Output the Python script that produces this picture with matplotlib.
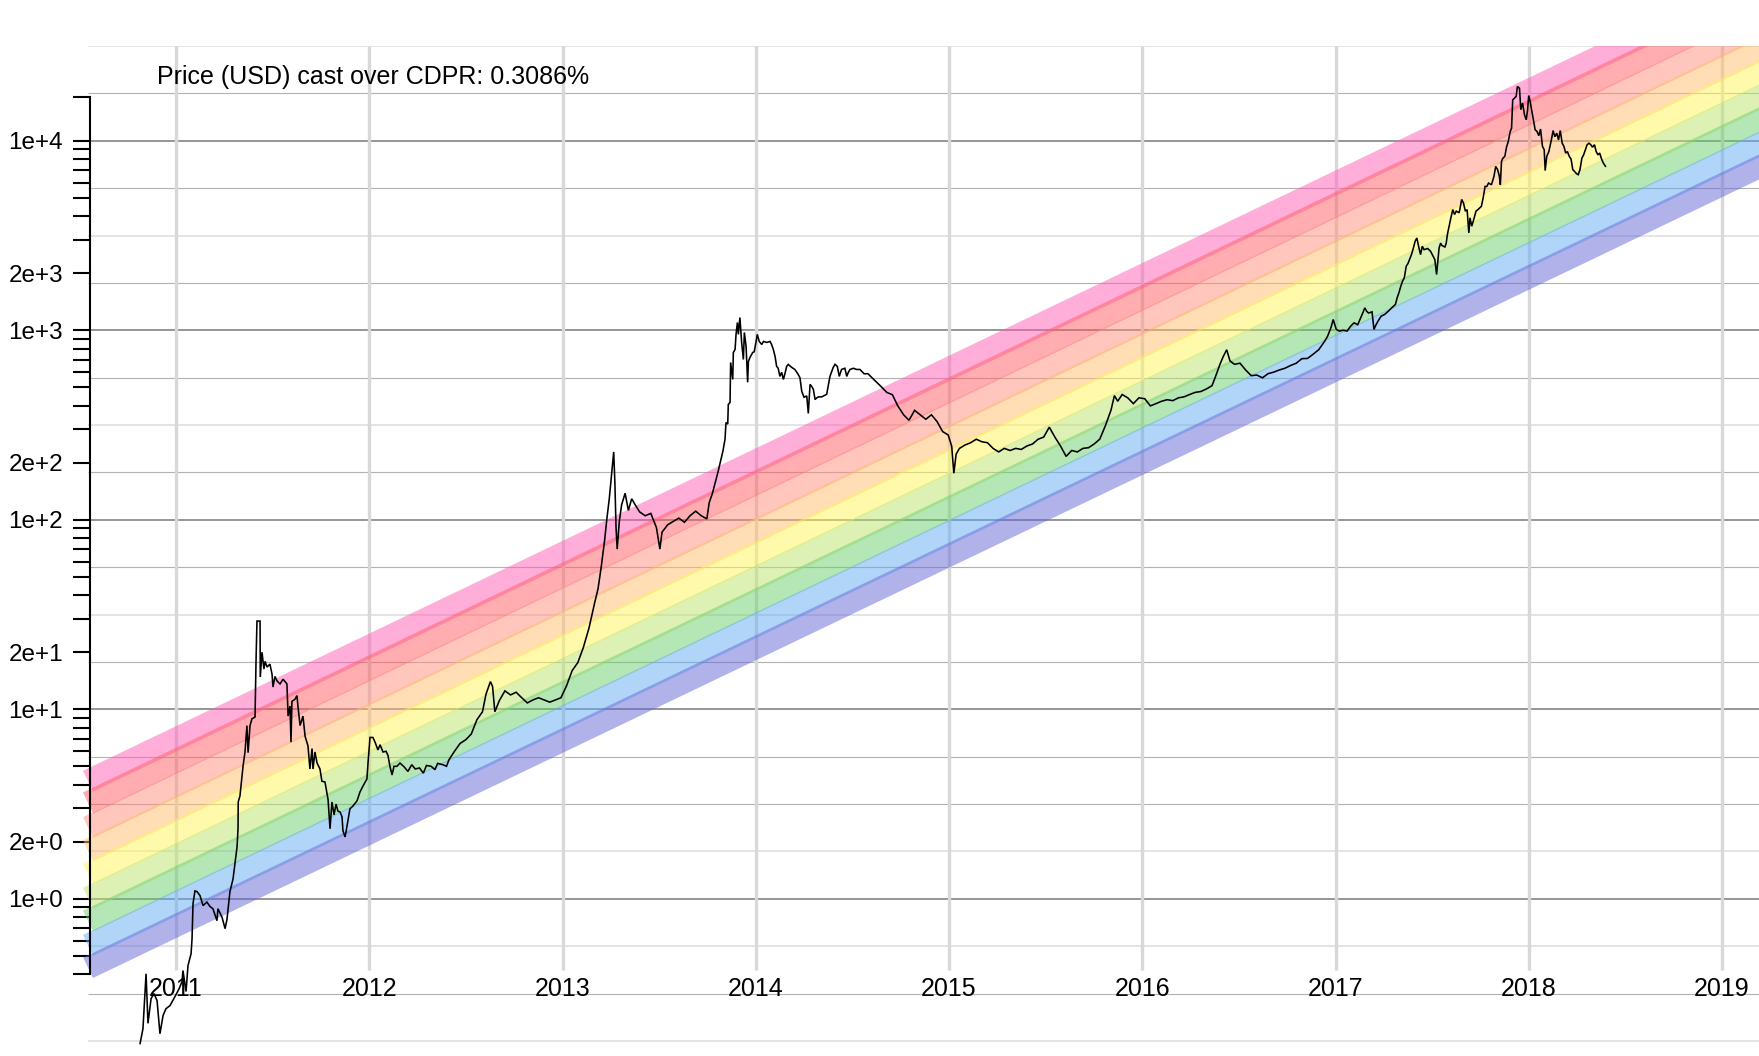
import numpy as np
import matplotlib
matplotlib.use("Agg")
import matplotlib.pyplot as plt
from matplotlib.patches import Polygon
from matplotlib.ticker import FixedLocator, NullFormatter

plt.rcParams['font.family'] = ['Liberation Sans', 'DejaVu Sans']

# ---------------- data ----------------
title = "Price (USD) cast over CDPR: 0.3086%"
cdpr = 0.003086                      # compound daily price rate
years = list(range(2011, 2020))
year_labels = [str(y) for y in years]
ytick_major = [1, 2, 10, 20, 100, 200, 1000, 2000, 10000]
ytick_labels = ['1e+0', '2e+0', '1e+1', '2e+1', '1e+2', '2e+2', '1e+3', '2e+3', '1e+4']

band_colors = ['#ff5cb5', '#ff5c64', '#ff8e7e', '#ffbe6c', '#fff45a',
               '#bee46c', '#6cce6c', '#62acf2', '#6666d8']
rainbow_t0 = 2010.545        # start of the bands (decimal year)
rainbow_top_log0 = 0.693     # log10 of upper edge of top band at 2010.555
band_width_dec = 0.1243      # thickness of one band in decades
overlap_px = [0, 4, 1.5, 2.5, 2.5, 1.5, 3, 1.5, 3, 0]

price_2010 = [(2010.814, 0.172), (2010.829, 0.206), (2010.845, 0.402), (2010.850, 0.297),
              (2010.855, 0.220), (2010.871, 0.297), (2010.886, 0.316), (2010.902, 0.290),
              (2010.917, 0.194), (2010.933, 0.242), (2010.948, 0.263), (2010.969, 0.273),
              (2010.995, 0.305)]
price_2011 = [(2011.016, 0.335), (2011.031, 0.365), (2011.036, 0.418), (2011.052, 0.324),
              (2011.062, 0.444), (2011.078, 0.513), (2011.083, 0.615), (2011.088, 0.941),
              (2011.098, 1.10), (2011.109, 1.09), (2011.124, 1.04), (2011.140, 0.92),
              (2011.160, 0.96), (2011.176, 0.91), (2011.191, 0.886), (2011.212, 0.766),
              (2011.217, 0.886), (2011.238, 0.80), (2011.254, 0.695), (2011.264, 0.78),
              (2011.279, 1.09), (2011.295, 1.27), (2011.316, 1.88), (2011.321, 2.34),
              (2011.322, 3.24), (2011.331, 3.49), (2011.347, 5.02), (2011.357, 5.95),
              (2011.367, 8.2), (2011.373, 5.9), (2011.383, 8.2), (2011.393, 8.9),
              (2011.409, 9.1), (2011.414, 17.7), (2011.419, 29.2), (2011.435, 29.2),
              (2011.436, 14.8), (2011.445, 20.0), (2011.455, 16.3), (2011.461, 17.9),
              (2011.471, 16.7), (2011.486, 17.3), (2011.497, 15.3), (2011.502, 13.1),
              (2011.512, 14.9), (2011.523, 14.1), (2011.538, 13.6), (2011.554, 14.4),
              (2011.574, 13.6), (2011.580, 9.2), (2011.590, 10.4), (2011.595, 6.7),
              (2011.600, 11.0), (2011.616, 11.3), (2011.626, 11.8), (2011.631, 10.4),
              (2011.642, 8.2), (2011.657, 9.2), (2011.668, 7.2), (2011.683, 6.4),
              (2011.693, 4.84), (2011.704, 6.2), (2011.709, 4.84), (2011.719, 5.95),
              (2011.730, 5.2), (2011.745, 4.84), (2011.755, 4.17), (2011.771, 4.13),
              (2011.787, 3.33), (2011.797, 2.34), (2011.807, 3.24), (2011.818, 2.77),
              (2011.828, 3.16), (2011.838, 2.9), (2011.849, 2.87), (2011.859, 2.71),
              (2011.864, 2.28), (2011.875, 2.12), (2011.885, 2.42), (2011.900, 2.98),
              (2011.916, 3.09), (2011.937, 3.29), (2011.952, 3.66), (2011.968, 3.94),
              (2011.988, 4.29), (2011.994, 5.27)]
price_2012 = [(2012.004, 7.1), (2012.019, 7.1), (2012.030, 6.7), (2012.045, 6.1),
              (2012.056, 6.5), (2012.071, 5.95), (2012.087, 6.0), (2012.097, 5.7),
              (2012.107, 5.0), (2012.118, 4.5), (2012.128, 5.0), (2012.143, 5.0),
              (2012.159, 5.2), (2012.180, 4.97), (2012.200, 4.7), (2012.220, 5.1),
              (2012.238, 4.84), (2012.260, 4.9), (2012.280, 4.6), (2012.296, 5.05),
              (2012.320, 5.0), (2012.340, 4.8), (2012.354, 5.18), (2012.380, 5.1),
              (2012.400, 5.0), (2012.412, 5.4), (2012.441, 6.0), (2012.470, 6.6),
              (2012.499, 6.9), (2012.528, 7.4), (2012.557, 8.8), (2012.586, 9.7),
              (2012.604, 12.0), (2012.627, 14.0), (2012.638, 13.2), (2012.650, 9.7),
              (2012.673, 11.1), (2012.702, 12.5), (2012.731, 11.9), (2012.760, 12.3),
              (2012.789, 11.5), (2012.818, 10.8), (2012.847, 11.2), (2012.876, 11.5),
              (2012.934, 10.9), (2012.992, 11.5)]
price_2013 = [(2013.021, 13.3), (2013.050, 16.0), (2013.079, 17.6), (2013.108, 21.2),
              (2013.137, 26.8), (2013.166, 36.3), (2013.184, 43.3), (2013.201, 57),
              (2013.218, 78), (2013.230, 102), (2013.242, 129), (2013.253, 169),
              (2013.265, 228), (2013.271, 158), (2013.277, 91), (2013.283, 70),
              (2013.294, 98), (2013.306, 120), (2013.324, 138), (2013.341, 112),
              (2013.358, 129), (2013.376, 120), (2013.399, 110), (2013.428, 105),
              (2013.457, 108), (2013.486, 91), (2013.504, 70), (2013.515, 86),
              (2013.544, 94), (2013.573, 98), (2013.602, 102), (2013.631, 97),
              (2013.660, 105), (2013.689, 111), (2013.718, 105), (2013.747, 101),
              (2013.759, 123), (2013.776, 138), (2013.806, 181), (2013.830, 230),
              (2013.841, 266), (2013.846, 326), (2013.855, 320), (2013.858, 406),
              (2013.867, 416), (2013.870, 676), (2013.881, 550), (2013.884, 763),
              (2013.893, 792), (2013.898, 951), (2013.905, 1099), (2013.910, 951),
              (2013.918, 1167), (2013.927, 862), (2013.936, 701), (2013.941, 973),
              (2013.950, 821), (2013.958, 531), (2013.962, 685), (2013.970, 718),
              (2013.984, 763), (2013.992, 770)]
price_2014 = [(2014.001, 862), (2014.008, 951), (2014.018, 873), (2014.031, 841),
              (2014.040, 873), (2014.057, 862), (2014.074, 873), (2014.082, 841),
              (2014.091, 792), (2014.100, 727), (2014.108, 645), (2014.116, 630),
              (2014.125, 571), (2014.134, 600), (2014.143, 550), (2014.151, 590),
              (2014.160, 645), (2014.168, 660), (2014.186, 637), (2014.203, 620),
              (2014.220, 584), (2014.229, 560), (2014.238, 476), (2014.250, 443),
              (2014.264, 450), (2014.272, 364), (2014.281, 518), (2014.290, 505),
              (2014.298, 488), (2014.307, 431), (2014.316, 440), (2014.324, 445),
              (2014.341, 445), (2014.367, 459), (2014.384, 571), (2014.401, 637),
              (2014.410, 661), (2014.422, 645), (2014.432, 571), (2014.444, 621),
              (2014.461, 630), (2014.471, 571), (2014.479, 600), (2014.488, 621),
              (2014.505, 630), (2014.522, 621), (2014.539, 621), (2014.561, 589),
              (2014.580, 590), (2014.620, 539), (2014.649, 504), (2014.678, 470),
              (2014.707, 457), (2014.735, 399), (2014.765, 358), (2014.793, 335),
              (2014.822, 378), (2014.851, 358), (2014.880, 339), (2014.909, 358),
              (2014.938, 330), (2014.967, 292), (2014.996, 280)]
price_2015 = [(2015.014, 244), (2015.025, 176), (2015.037, 222), (2015.054, 238),
              (2015.083, 248), (2015.112, 255), (2015.141, 266), (2015.170, 258),
              (2015.199, 255), (2015.228, 238), (2015.257, 228), (2015.286, 238),
              (2015.316, 232), (2015.345, 238), (2015.374, 235), (2015.403, 245),
              (2015.432, 251), (2015.461, 266), (2015.490, 273), (2015.519, 308),
              (2015.548, 273), (2015.577, 245), (2015.606, 216), (2015.635, 232),
              (2015.664, 228), (2015.693, 238), (2015.722, 240), (2015.751, 251),
              (2015.780, 266), (2015.809, 313), (2015.838, 378), (2015.856, 452),
              (2015.873, 422), (2015.896, 458), (2015.925, 440), (2015.954, 410),
              (2015.983, 440)]
price_2016 = [(2016.013, 435), (2016.042, 399), (2016.071, 410), (2016.100, 422),
              (2016.129, 430), (2016.158, 425), (2016.187, 440), (2016.216, 445),
              (2016.245, 458), (2016.274, 470), (2016.303, 475), (2016.332, 490),
              (2016.361, 510), (2016.379, 569), (2016.402, 661), (2016.419, 726),
              (2016.437, 789), (2016.454, 689), (2016.477, 661), (2016.506, 670),
              (2016.535, 617), (2016.564, 576), (2016.593, 580), (2016.622, 561),
              (2016.651, 590), (2016.680, 601), (2016.709, 617), (2016.738, 630),
              (2016.768, 652), (2016.797, 670), (2016.826, 708), (2016.855, 710),
              (2016.884, 747), (2016.913, 789), (2016.942, 869), (2016.959, 929),
              (2016.977, 1036), (2016.988, 1140)]
price_2017 = [(2017.004, 1010), (2017.020, 990), (2017.040, 1000), (2017.060, 990),
              (2017.078, 1050), (2017.096, 1094), (2017.115, 1070), (2017.134, 1186),
              (2017.152, 1313), (2017.161, 1260), (2017.171, 1233), (2017.189, 1250),
              (2017.199, 1010), (2017.208, 1060), (2017.217, 1104), (2017.236, 1186),
              (2017.254, 1211), (2017.273, 1260), (2017.291, 1313), (2017.310, 1368),
              (2017.319, 1483), (2017.328, 1575), (2017.338, 1709), (2017.347, 1817),
              (2017.356, 1890), (2017.366, 2177), (2017.375, 2250), (2017.384, 2377),
              (2017.393, 2506), (2017.403, 2717), (2017.412, 2945), (2017.421, 3069),
              (2017.430, 2775), (2017.440, 2506), (2017.449, 2775), (2017.458, 2663),
              (2017.477, 2700), (2017.492, 2610), (2017.505, 2455), (2017.514, 2360),
              (2017.523, 1968), (2017.529, 2270), (2017.536, 2717), (2017.544, 2884),
              (2017.551, 2800), (2017.566, 2750), (2017.573, 2880), (2017.579, 3200),
              (2017.588, 3540), (2017.597, 3920), (2017.607, 4335), (2017.616, 4080),
              (2017.625, 4250), (2017.640, 4170), (2017.653, 4900), (2017.662, 4700),
              (2017.672, 4250), (2017.681, 4330), (2017.690, 3265), (2017.696, 3920),
              (2017.705, 3540), (2017.714, 3800), (2017.727, 4250), (2017.737, 4330),
              (2017.755, 4510), (2017.764, 4990), (2017.774, 5740), (2017.783, 5740),
              (2017.792, 5980), (2017.807, 5860), (2017.820, 6485), (2017.829, 7325),
              (2017.839, 7035), (2017.848, 6485), (2017.853, 5860), (2017.859, 7780),
              (2017.866, 8090), (2017.876, 8260), (2017.885, 9250), (2017.894, 9910),
              (2017.904, 11190), (2017.911, 11650), (2017.917, 16430), (2017.926, 16780),
              (2017.935, 17140), (2017.941, 19330), (2017.952, 18950), (2017.959, 14580),
              (2017.968, 15810), (2017.978, 13710), (2017.987, 12900), (2017.993, 14290)]
price_2018 = [(2018.000, 17310), (2018.007, 16150), (2018.015, 14580), (2018.024, 12900),
              (2018.033, 11430), (2018.043, 11190), (2018.052, 10630), (2018.061, 11530),
              (2018.071, 9340), (2018.080, 8960), (2018.085, 6960), (2018.093, 8260),
              (2018.104, 8770), (2018.117, 10110), (2018.126, 11320), (2018.135, 10510),
              (2018.145, 10960), (2018.154, 10110), (2018.163, 11320), (2018.173, 9710),
              (2018.182, 9340), (2018.191, 8610), (2018.200, 8770), (2018.210, 8260),
              (2018.219, 8000), (2018.228, 7035), (2018.237, 6890), (2018.247, 6700),
              (2018.256, 6620), (2018.265, 7035), (2018.275, 8090), (2018.284, 8430),
              (2018.293, 8960), (2018.302, 9530), (2018.312, 9710), (2018.321, 9530),
              (2018.330, 9250), (2018.340, 9530), (2018.349, 8770), (2018.358, 8430),
              (2018.367, 8610), (2018.377, 8000), (2018.386, 7620), (2018.397, 7330)]

price_segments = [price_2010, price_2011, price_2012, price_2013, price_2014,
                  price_2015, price_2016, price_2017, price_2018]
price_t = [t for seg in price_segments for t, _ in seg]
price_v = [v for seg in price_segments for _, v in seg]

# ---------------- layout ----------------
W, H = 1759, 1056
PXY = 193.25      # px per year
PXD = 189.5       # px per decade
left_px, top_px = 80, 46
t_left = 2011 + (left_px - 176) / PXY
t_right = t_left + (W - left_px) / PXY
log_top = 4.5
log_bot = log_top - (H - top_px) / PXD


def t_at(px):
    return t_left + (px - left_px) / PXY


def log_at(py):
    return log_top - (py - top_px) / PXD


fig = plt.figure(figsize=(W / 100, H / 100), dpi=100)
ax = fig.add_axes([left_px / W, 0, (W - left_px) / W, (H - top_px) / H])
ax.set_yscale('log')
ax.set_xlim(t_left, t_right)
ax.set_ylim(10 ** log_bot, 10 ** log_top)
ax.patch.set_alpha(0)

# horizontal grid
light = {4.5, 3.5, 2.5, 1.5, 0.25, -0.25, -0.75}
for k in range(-3, 19):
    v = k / 4
    if k % 4 == 0:
        col, lw = '#8e8e8e', 1.3
    elif v in light:
        col, lw = '#dddddd', 1.1
    else:
        col, lw = '#b2b2b2', 0.8
    ax.hlines(10 ** v, t_at(88), t_right, colors=col, lw=lw, zorder=1)

# vertical year grid
ax.vlines(years, 10 ** log_at(970), 10 ** log_top, colors='#d8d8d8', lw=2.4, zorder=1)

# rainbow bands
g = 365.25 * np.log10(1 + cdpr)       # decades per year
m = g * PXD / PXY                      # slope in px/px
t_end = t_right + 0.3


def L(t):
    return rainbow_top_log0 + g * (t - 2010.555)


for i, col in enumerate(band_colors):
    top = -i * band_width_dec + overlap_px[i] / 2 / PXD
    bot = -(i + 1) * band_width_dec - overlap_px[i + 1] / 2 / PXD
    hh_px = (top - bot) / 2 * PXD
    dx = m * hh_px / (1 + m * m) / PXY
    verts = [(rainbow_t0 - dx, 10 ** (L(rainbow_t0 - dx) + top)),
             (t_end, 10 ** (L(t_end) + top)),
             (t_end, 10 ** (L(t_end) + bot)),
             (rainbow_t0 + dx, 10 ** (L(rainbow_t0 + dx) + bot))]
    ax.add_patch(Polygon(verts, closed=True, facecolor=col, alpha=0.5,
                         edgecolor='none', zorder=2))

# price
ax.plot(price_t, price_v, color='black', lw=1.15, zorder=5, solid_joinstyle='miter')

# axes styling
for s in ['top', 'right', 'bottom']:
    ax.spines[s].set_visible(False)
ax.spines['left'].set_position(('data', t_at(90)))
ax.spines['left'].set_bounds(0.4, 10 ** log_at(97))
ax.spines['left'].set_linewidth(1.5)
ax.spines['left'].set_zorder(6)
ax.spines['bottom'].set_position(('data', 10 ** log_at(972)))

ax.yaxis.set_major_locator(FixedLocator(ytick_major))
ax.set_yticklabels(ytick_labels)
minor = [f * 10 ** e for e in range(-1, 4) for f in range(3, 10)
         if 0.4 <= f * 10 ** e <= 10000] + [10 ** log_at(97)]
ax.yaxis.set_minor_locator(FixedLocator(minor))
ax.yaxis.set_minor_formatter(NullFormatter())
ax.tick_params(axis='y', which='both', length=12.2, width=1.5, direction='out',
               pad=7.2, labelsize=17.5, colors='black')

ax.set_xticks(years)
ax.set_xticklabels(year_labels)
ax.xaxis.set_minor_locator(FixedLocator([]))
ax.tick_params(axis='x', which='both', length=0, pad=3.8, labelsize=18)

fig.text(157 / W, 1 - 77 / H, title, fontsize=18, va='center', ha='left')

fig.savefig('out.png', dpi=100)
